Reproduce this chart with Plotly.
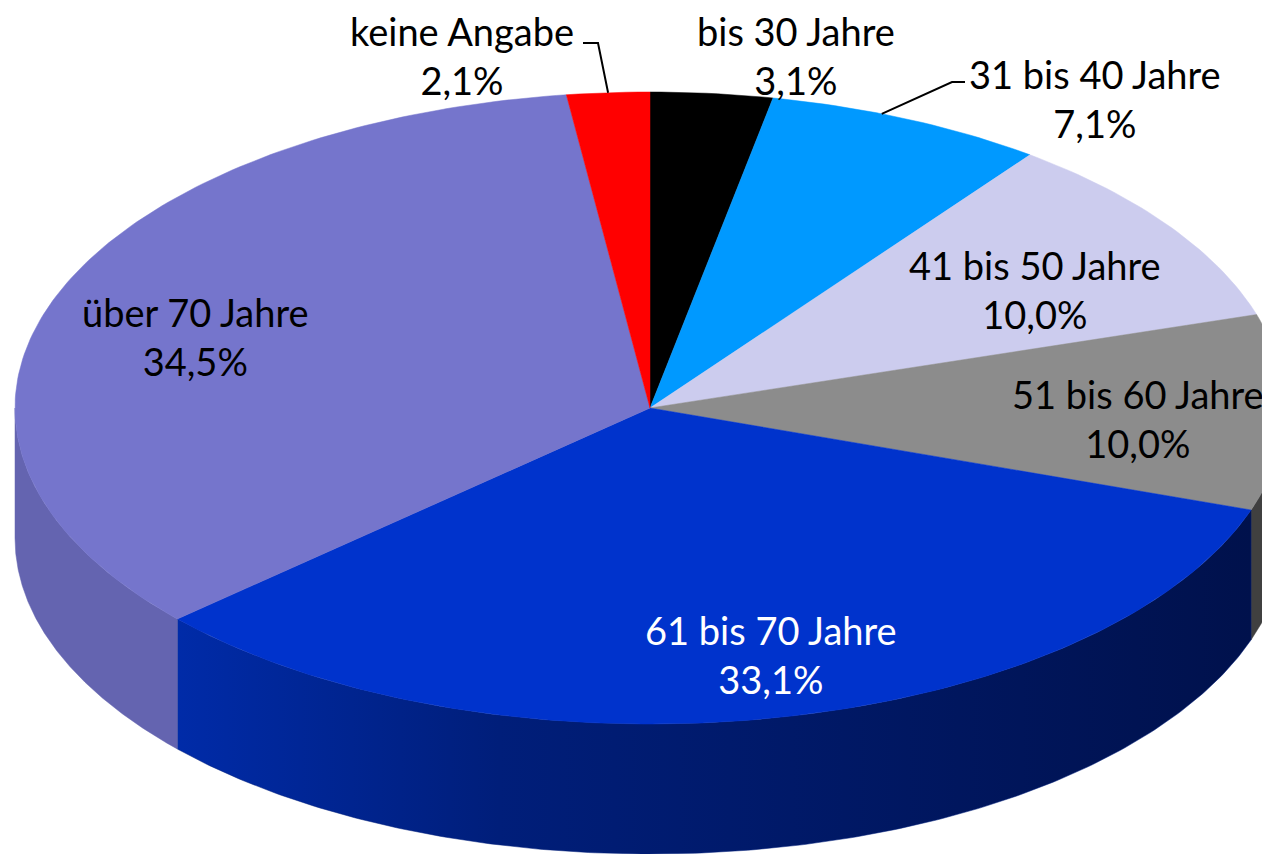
import numpy as np
import plotly.graph_objects as go

# ---- data ----
categories = ["bis 30 Jahre", "31 bis 40 Jahre", "41 bis 50 Jahre", "51 bis 60 Jahre",
              "61 bis 70 Jahre", "über 70 Jahre", "keine Angabe"]
shares = [3.1, 7.1, 10.0, 10.0, 33.1, 34.5, 2.1]

# ---- style ----
top_colors = ["#000000", "#0099FF", "#CCCCEE", "#8C8C8C", "#0033CC", "#7575CC", "#FF0000"]
side_colors = ["#000000", "#007ACC", "#A3A3BE", "#404040", None, "#6464B0", "#CC0000"]
side_gradient = [[0, "#002BA8"], [0.3, "#001E7A"], [1, "#00114C"]]
label_pos = [(796, 55), (1095, 98), (1035, 289), (1138, 418), (771, 654), (195, 336), (462, 55)]
label_colors = ["black", "black", "black", "black", "white", "black", "black"]

W, H = 1270, 854
OFF = 8  # page body margin compensation
cx, cy, a, b, depth = 650, 408, 635, 316, 130

total = sum(shares)
fr = np.cumsum([0] + shares) / total
ang = fr * 2 * np.pi  # clockwise from 12 o'clock


def ell(t, dy=0.0):
    return cx + a * np.sin(t), cy - b * np.cos(t) + dy


fig = go.Figure()

# side walls (front half only: pi/2 .. 3pi/2)
for i in range(len(shares)):
    t0, t1 = max(ang[i], np.pi / 2), min(ang[i + 1], 3 * np.pi / 2)
    if t1 <= t0:
        continue
    t = np.linspace(t0, t1, 200)
    xt, yt = ell(t)
    xb, yb = ell(t[::-1], depth)
    xs = np.concatenate([xt, xb, xt[:1]])
    ys = np.concatenate([yt, yb, yt[:1]])
    kw = {}
    if side_colors[i] is None:
        kw["fillgradient"] = dict(type="horizontal", colorscale=side_gradient)
        lc = "#001E7A"
    else:
        kw["fillcolor"] = side_colors[i]
        lc = side_colors[i]
    fig.add_trace(go.Scatter(x=xs, y=ys, mode="lines", fill="toself",
                             line=dict(color=lc, width=0.5), hoverinfo="skip", **kw))

# top faces
for i in range(len(shares)):
    n = max(int(400 * (fr[i + 1] - fr[i])), 8)
    t = np.linspace(ang[i], ang[i + 1], n)
    xt, yt = ell(t)
    xs = np.concatenate([[cx], xt, [cx]])
    ys = np.concatenate([[cy], yt, [cy]])
    fig.add_trace(go.Scatter(x=xs, y=ys, mode="lines", fill="toself",
                             fillcolor=top_colors[i],
                             line=dict(color=top_colors[i], width=0.5), hoverinfo="skip"))

# labels
for i, name in enumerate(categories):
    txt = f"{name}<br>{shares[i]:.1f}".replace(".", ",") + "%"
    x, y = label_pos[i]
    fig.add_annotation(x=x, y=y, text=txt, showarrow=False, xanchor="center", yanchor="middle",
                       font=dict(family="Lato", size=38, color=label_colors[i]))

# leader lines
def mid_point(i):
    return ell((ang[i] + ang[i + 1]) / 2)

ka = categories.index("keine Angabe")
px, py = mid_point(ka)
fig.add_trace(go.Scatter(x=[583, 598, px], y=[43, 43, py], mode="lines",
                         line=dict(color="black", width=2), hoverinfo="skip"))
k3 = categories.index("31 bis 40 Jahre")
px, py = ell(ang[k3] + 0.4 * (ang[k3 + 1] - ang[k3]))
fig.add_trace(go.Scatter(x=[965, 952, px], y=[82, 82, py], mode="lines",
                         line=dict(color="black", width=2), hoverinfo="skip"))

fig.update_layout(
    width=W, height=H, margin=dict(l=0, r=0, t=0, b=0),
    paper_bgcolor="white", plot_bgcolor="white", showlegend=False,
    xaxis=dict(range=[OFF, W + OFF], visible=False, fixedrange=True),
    yaxis=dict(range=[H + OFF, OFF], visible=False, fixedrange=True),
)

fig.write_html("out.html")
